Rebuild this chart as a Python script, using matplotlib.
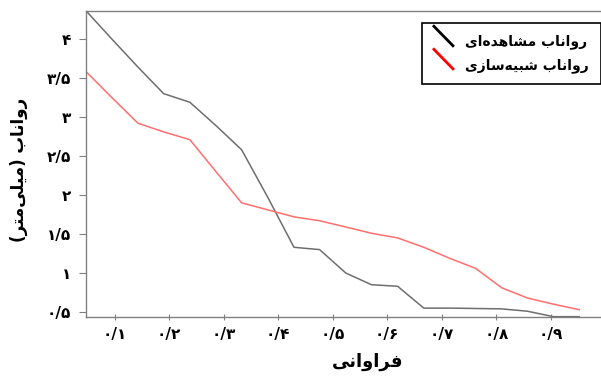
import matplotlib
matplotlib.use("Agg")
import matplotlib.pyplot as plt
from matplotlib.lines import Line2D
from matplotlib.legend_handler import HandlerBase

# frequency (plotting position) and runoff in mm
freq = [0.048, 0.095, 0.143, 0.190, 0.238, 0.286, 0.333, 0.381, 0.429, 0.476,
        0.524, 0.571, 0.619, 0.667, 0.714, 0.762, 0.810, 0.857, 0.905, 0.952]
observed = [4.36, 4.00, 3.64, 3.30, 3.19, 2.89, 2.58, 1.97, 1.33, 1.30,
            1.00, 0.85, 0.83, 0.55, 0.55, 0.545, 0.54, 0.51, 0.44, 0.44]
simulated = [3.58, 3.25, 2.92, 2.81, 2.71, 2.30, 1.90, 1.81, 1.72, 1.67,
             1.59, 1.51, 1.45, 1.33, 1.19, 1.06, 0.81, 0.68, 0.60, 0.53]

yticks = [0.5, 1, 1.5, 2, 2.5, 3, 3.5, 4]
xticks = [0.1, 0.2, 0.3, 0.4, 0.5, 0.6, 0.7, 0.8, 0.9]

label_obs = "رواناب مشاهده‌ای"
label_sim = "رواناب شبیه‌سازی"
xlabel = "فراوانی"
ylabel = "رواناب (میلی‌متر)"

# minimal persian shaping (matplotlib has no complex text layout)
FORMS = {
    'ا': ('\uFE8D', '\uFE8E', None, None),
    'ب': ('\uFE8F', '\uFE90', '\uFE91', '\uFE92'),
    'ت': ('\uFE95', '\uFE96', '\uFE97', '\uFE98'),
    'د': ('\uFEA9', '\uFEAA', None, None),
    'ر': ('\uFEAD', '\uFEAE', None, None),
    'ز': ('\uFEAF', '\uFEB0', None, None),
    'س': ('\uFEB1', '\uFEB2', '\uFEB3', '\uFEB4'),
    'ش': ('\uFEB5', '\uFEB6', '\uFEB7', '\uFEB8'),
    'ف': ('\uFED1', '\uFED2', '\uFED3', '\uFED4'),
    'ل': ('\uFEDD', '\uFEDE', '\uFEDF', '\uFEE0'),
    'م': ('\uFEE1', '\uFEE2', '\uFEE3', '\uFEE4'),
    'ن': ('\uFEE5', '\uFEE6', '\uFEE7', '\uFEE8'),
    'ه': ('\uFEE9', '\uFEEA', '\uFEEB', '\uFEEC'),
    'و': ('\uFEED', '\uFEEE', None, None),
    'ی': ('\uFEEF', '\uFEF0', '\uFEF3', '\uFEF4'),
}


def fa(text):
    out = []
    for i, ch in enumerate(text):
        if ch == '\u200c':
            continue
        if ch not in FORMS:
            out.append(ch)
            continue
        prev = text[i - 1] if i > 0 else ''
        nxt = text[i + 1] if i + 1 < len(text) else ''
        jp = prev in FORMS and FORMS[prev][2] is not None
        jn = nxt in FORMS and FORMS[ch][2] is not None
        iso, fin, ini, med = FORMS[ch]
        if jp and jn:
            out.append(med)
        elif jp:
            out.append(fin)
        elif jn:
            out.append(ini)
        else:
            out.append(iso)
    s = ''.join(reversed(out))
    return s.translate(str.maketrans('()', ')('))


def fa_num(v):
    s = f"{v:g}".replace('.', '/')
    return s.translate(str.maketrans('0123456789', '۰۱۲۳۴۵۶۷۸۹'))


class DiagHandler(HandlerBase):
    def create_artists(self, legend, orig_handle, xdescent, ydescent,
                       width, height, fontsize, trans):
        x0 = -xdescent
        y0 = -ydescent
        ln = Line2D([x0, x0 + width], [y0 + height * 2.0, y0],
                    color=orig_handle.get_color(), lw=2)
        ln.set_transform(trans)
        return [ln]


plt.rcParams['font.family'] = ['DejaVu Sans']

fig = plt.figure(figsize=(6.01, 3.78), dpi=100)
ax = fig.add_axes([0.1431, 0.1614, 0.8569, 0.8095])

ax.plot(freq, observed, color='#6e6e6e', lw=1.1)
ax.plot(freq, simulated, color='#ff6f6f', lw=1.1)

ax.set_xlim(0.0476, 0.992)
ax.set_ylim(0.436, 4.36)

ax.set_xticks(xticks)
ax.set_xticklabels([fa_num(v) for v in xticks], fontsize=11, fontweight='bold')
ax.set_yticks(yticks)
ax.set_yticklabels([fa_num(v) for v in yticks], fontsize=11, fontweight='bold')
ax.tick_params(axis='y', direction='out', length=5, color='#808080', pad=6)
ax.tick_params(axis='x', direction='inout', length=4, color='#808080', pad=5)

for side in ['left', 'bottom', 'top']:
    ax.spines[side].set_color('#808080')
    ax.spines[side].set_linewidth(1)
ax.spines['right'].set_visible(False)

ax.set_xlabel(fa(xlabel), fontsize=13, fontweight='bold')
ax.xaxis.set_label_coords(0.546, -0.118)
ax.set_ylabel(fa(ylabel), fontsize=12, fontweight='bold')
ax.yaxis.set_label_coords(-0.113, 0.48)

h1 = Line2D([], [], color='black')
h2 = Line2D([], [], color='red')
leg = ax.legend([h1, h2], [fa(label_obs), fa(label_sim)],
                handler_map={Line2D: DiagHandler()},
                loc='upper right', bbox_to_anchor=(1.0, 0.961),
                borderaxespad=0,
                fancybox=False, framealpha=1, edgecolor='black',
                prop={'size': 10, 'weight': 'bold'},
                handlelength=1.37, handletextpad=0.9, labelspacing=0.6,
                borderpad=0.85)
leg.get_frame().set_linewidth(1.2)

fig.savefig('out.png', dpi=100)
